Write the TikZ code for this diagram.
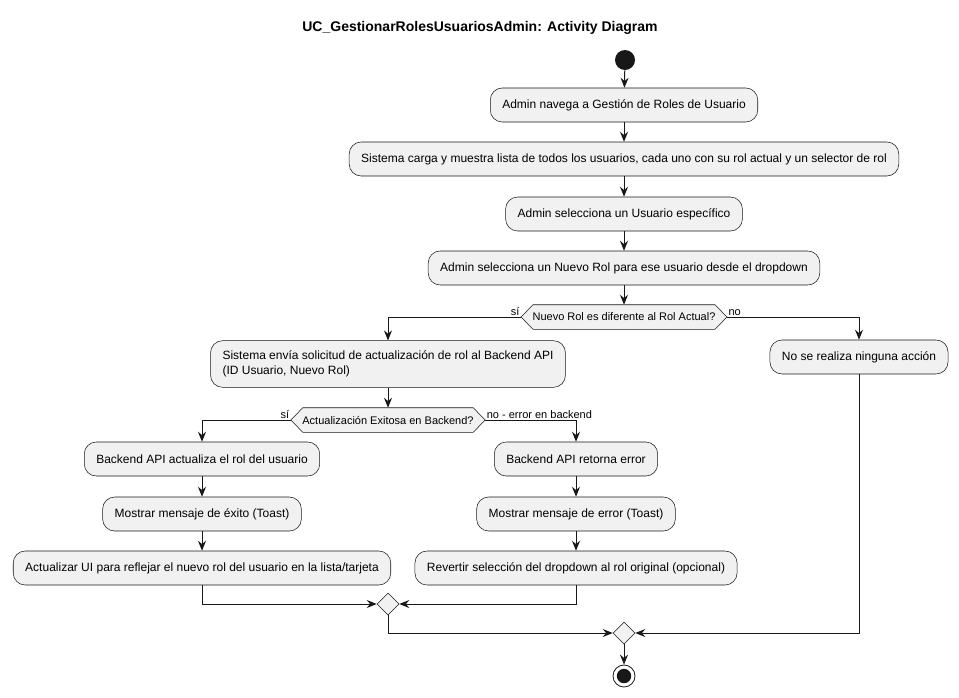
\documentclass[tikz,border=0pt]{standalone}
\usepackage{fontspec}
\setmainfont{Liberation Sans}
\usetikzlibrary{arrows.meta,shapes.geometric,backgrounds,calc}
\definecolor{boxfill}{HTML}{F1F1F1}
\definecolor{linecol}{HTML}{181818}
\tikzset{
    block/.style = {draw=linecol, fill=boxfill, rectangle, rounded corners=9pt,
        minimum height=25.5pt, inner xsep=9pt, align=center,
        font=\fontsize{9}{11.5}\selectfont},
    decision/.style = {rectangle, minimum height=18pt, inner xsep=8.5pt,
        font=\fontsize{8.25}{10}\selectfont},
    merge/.style = {draw=linecol, fill=boxfill, diamond, inner sep=0pt,
        minimum width=16.5pt, minimum height=16.5pt},
    lbl/.style = {font=\fontsize{8.25}{10}\selectfont, inner sep=1pt},
    arrow/.style = {draw=linecol, line width=0.75pt,
        -{Stealth[length=7.5pt,width=6pt,inset=2.5pt]}},
    hexline/.style = {draw=linecol, fill=boxfill, line width=0.4pt}
}
\newcommand{\hexagon}[1]{%
    \path[hexline] (#1.west) -- ($(#1.north west)+(12,0)$) -- ($(#1.north east)+(-12,0)$)
        -- (#1.east) -- ($(#1.south east)+(-12,0)$) -- ($(#1.south west)+(12,0)$) -- cycle;}

\begin{document}
\begin{tikzpicture}[x=0.75pt,y=-0.75pt]
    \useasboundingbox (0,0) rectangle (959,697);
    \node [font=\bfseries\fontsize{10.5}{12}\selectfont] (title) at (480,28) {UC\_GestionarRolesUsuariosAdmin: Activity Diagram};

    % main flow
    \node [circle, fill=linecol, minimum size=15pt, inner sep=0pt] (start) at (625,60) {};
    \node [block] (navega) at (624,105) {Admin navega a Gestión de Roles de Usuario};
    \node [block] (carga) at (624,159) {Sistema carga y muestra lista de todos los usuarios, cada uno con su rol actual y un selector de rol};
    \node [block] (selusr) at (624,214) {Admin selecciona un Usuario específico};
    \node [block] (selrol) at (624,268) {Admin selecciona un Nuevo Rol para ese usuario desde el dropdown};
    \node [decision] (difrol) at (624,317) {Nuevo Rol es diferente al Rol Actual?};

    % rol distinto
    \node [block, align=left, minimum height=35pt] (envia) at (388,364) {Sistema envía solicitud de actualización de rol al Backend API\\(ID Usuario, Nuevo Rol)};
    \node [decision] (exito) at (388,420) {Actualización Exitosa en Backend?};
    \node [block] (actualiza) at (202,459) {Backend API actualiza el rol del usuario};
    \node [block] (toastok) at (202,514) {Mostrar mensaje de éxito (Toast)};
    \node [block] (ui) at (202,568) {Actualizar UI para reflejar el nuevo rol del usuario en la lista/tarjeta};
    \node [block] (retorna) at (576,459) {Backend API retorna error};
    \node [block] (toasterr) at (576,514) {Mostrar mensaje de error (Toast)};
    \node [block] (revertir) at (576,568) {Revertir selección del dropdown al rol original (opcional)};
    \node [merge] (merge1) at (388,604) {};

    % rol igual
    \node [block] (ninguna) at (859,357) {No se realiza ninguna acción};
    \node [merge] (merge2) at (624,633) {};
    \node [circle, draw=linecol, fill=white, line width=0.6pt, minimum size=16.5pt, inner sep=0pt] (stop) at (624,676) {};
    \fill [linecol] (stop.center) circle [radius=5.4pt];

    \begin{scope}[on background layer]
        \hexagon{difrol}
        \hexagon{exito}
    \end{scope}

    \draw [arrow] (start) -- (navega);
    \draw [arrow] (navega) -- (carga);
    \draw [arrow] (carga) -- (selusr);
    \draw [arrow] (selusr) -- (selrol);
    \draw [arrow] (selrol) -- (difrol);
    \draw [arrow] (difrol.west) -| (envia);
    \node [lbl, anchor=south east] at (difrol.west) {sí};
    \draw [arrow] (difrol.east) -| (ninguna);
    \node [lbl, anchor=south west] at (difrol.east) {no};
    \draw [arrow] (envia) -- (exito);
    \draw [arrow] (exito.west) -| (actualiza);
    \node [lbl, anchor=south east] at (exito.west) {sí};
    \draw [arrow] (exito.east) -| (retorna);
    \node [lbl, anchor=south west] at (exito.east) {no - error en backend};
    \draw [arrow] (actualiza) -- (toastok);
    \draw [arrow] (toastok) -- (ui);
    \draw [arrow] (retorna) -- (toasterr);
    \draw [arrow] (toasterr) -- (revertir);
    \draw [arrow] (ui) |- (merge1);
    \draw [arrow] (revertir) |- (merge1);
    \draw [arrow] (merge1) |- (merge2);
    \draw [arrow] (ninguna) |- (merge2);
    \draw [arrow] (merge2) -- (stop);
\end{tikzpicture}
\end{document}
